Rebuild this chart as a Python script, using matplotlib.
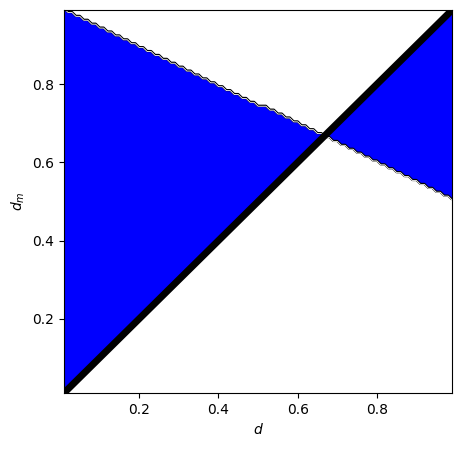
import numpy as np
import matplotlib
matplotlib.use("Agg")
import matplotlib.pyplot as plt

# axis range and grid used for the region
d_values = np.linspace(0.01, 0.99, 99)
dm_values = np.linspace(0.01, 0.99, 99)

# upper boundary of the region (straight line through two points)
boundary_d = [0.0, 1.0]
boundary_dm = [0.995, 0.505]

# diagonal line d_m = d
diag_d = [0.0, 1.0]
diag_dm = [0.0, 1.0]

D, DM = np.meshgrid(d_values, dm_values)
upper = np.interp(D, boundary_d, boundary_dm)
below = (DM < upper).astype(float)
above_diag = (DM > D).astype(float)
# region: below the boundary and above the diagonal, or the reverse
region = (below == above_diag).astype(float)

fig = plt.figure(figsize=(4.62, 4.49), dpi=100)
ax = fig.add_axes([0.1385, 0.1247, 0.84, 0.853])
ax.contourf(D, DM, region, levels=[0.5, 1.5], colors=["blue"])
ax.contour(D, DM, below, levels=[0.5], colors="black", linewidths=1.6)
ax.contour(D, DM, below, levels=[0.62], colors="white", linewidths=0.6)
ax.plot(diag_d, diag_dm, color="black", linewidth=5)
ax.set_xlim(0.01, 0.99)
ax.set_ylim(0.01, 0.99)
ax.set_xticks([0.2, 0.4, 0.6, 0.8])
ax.set_yticks([0.2, 0.4, 0.6, 0.8])
ax.set_xlabel(r"$d$")
ax.set_ylabel(r"$d_m$")
fig.savefig("out.png", dpi=100)
